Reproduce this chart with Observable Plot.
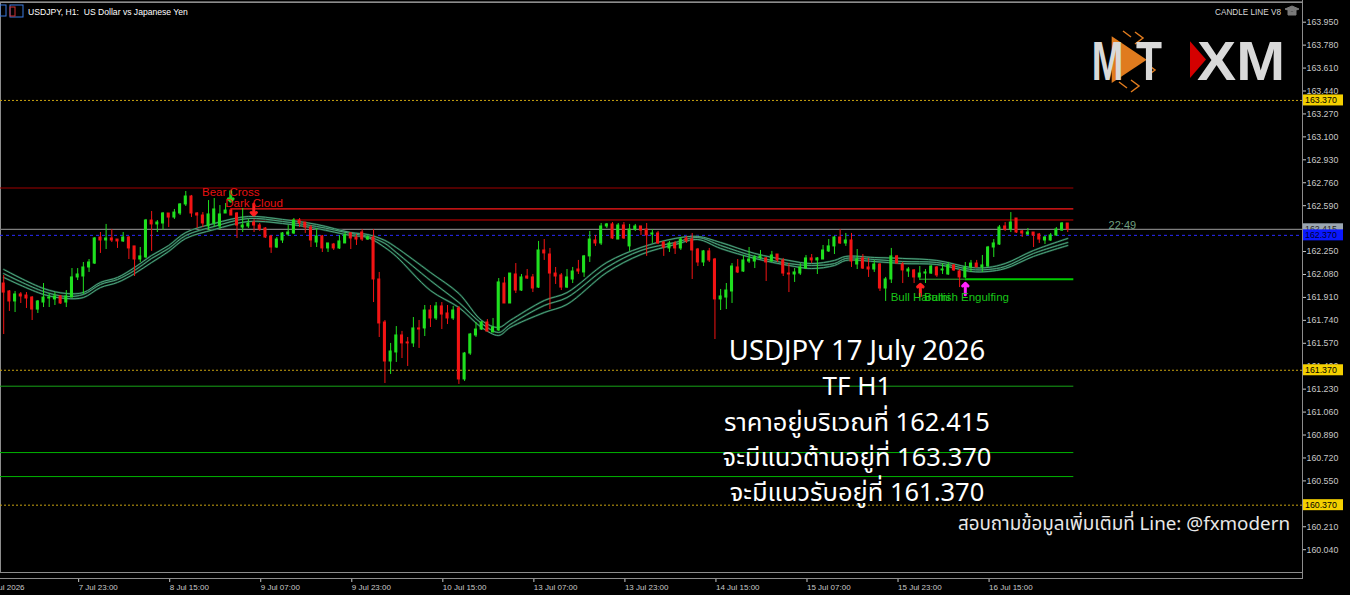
<!DOCTYPE html>
<html><head><meta charset="utf-8">
<script src="https://cdn.jsdelivr.net/npm/d3@7"></script>
<script src="https://cdn.jsdelivr.net/npm/@observablehq/plot@0.6"></script>
<style>
html,body{margin:0;padding:0;background:#000;overflow:hidden}
#chart{width:1350px;height:595px;background:#000;position:relative}
</style></head><body><div id="chart"></div>
<script>
// ---- Candles (USDJPY H1), bar index 0 = 7 Jul 10:00 ----
const opens = [162.013,161.954,161.880,161.932,161.924,161.909,161.820,161.872,161.902,161.895,
161.917,161.872,161.909,162.058,162.065,162.132,162.161,162.354,162.332,162.347,
162.339,162.325,162.354,162.288,162.191,162.206,162.480,162.451,162.458,162.532,
162.502,162.532,162.599,162.658,162.532,162.517,162.436,162.458,162.436,162.532,
162.554,162.532,162.428,162.436,162.465,162.443,162.421,162.362,162.280,162.332,
162.376,162.384,162.480,162.465,162.428,162.317,162.362,162.273,162.302,162.273,
162.310,162.384,162.354,162.391,162.339,162.354,162.043,161.724,161.435,161.502,
161.628,161.576,161.569,161.680,161.680,161.813,161.754,161.843,161.791,161.754,
161.828,161.302,161.494,161.628,161.672,161.724,161.650,161.665,162.013,161.865,
162.080,161.961,162.065,162.058,161.983,162.258,162.228,162.087,162.073,161.983,
162.043,162.117,162.095,162.214,162.332,162.310,162.436,162.451,162.339,162.443,
162.288,162.413,162.436,162.413,162.376,162.384,162.317,162.273,162.310,162.273,
162.347,162.339,162.265,162.169,162.251,162.191,161.895,161.909,161.954,162.132,
162.102,162.176,162.176,162.199,162.199,162.176,162.228,162.184,162.087,162.080,
162.087,162.124,162.199,162.184,162.191,162.251,162.288,162.354,162.310,162.332,
162.154,162.199,162.132,162.117,162.154,161.976,162.043,162.214,162.154,162.102,
162.110,162.058,162.087,162.087,162.132,162.110,162.080,162.147,162.102,162.058,
162.132,162.161,162.132,162.139,162.280,162.302,162.436,162.413,162.495,162.399,
162.376,162.391,162.376,162.332,162.332,162.369,162.406,162.458];
const highs = [162.073,161.961,161.954,161.946,161.946,161.917,161.887,162.013,161.939,161.946,
161.924,161.961,162.124,162.124,162.169,162.191,162.354,162.391,162.451,162.413,
162.339,162.391,162.362,162.288,162.280,162.488,162.547,162.480,162.539,162.532,
162.562,162.606,162.695,162.666,162.539,162.539,162.628,162.643,162.591,162.606,
162.562,162.539,162.569,162.488,162.488,162.458,162.428,162.369,162.354,162.391,
162.443,162.495,162.495,162.465,162.443,162.421,162.369,162.310,162.310,162.369,
162.391,162.391,162.376,162.413,162.369,162.413,162.095,161.739,161.569,161.694,
161.658,161.613,161.761,161.739,161.850,161.850,161.872,161.872,161.850,161.843,
161.843,161.502,161.643,161.724,161.731,161.746,161.754,162.050,162.058,162.087,
162.161,162.080,162.117,162.080,162.325,162.339,162.273,162.132,162.087,162.117,
162.132,162.184,162.221,162.399,162.369,162.458,162.458,162.465,162.458,162.465,
162.451,162.451,162.436,162.458,162.413,162.399,162.325,162.325,162.325,162.354,
162.362,162.384,162.273,162.258,162.273,162.199,161.969,162.013,162.161,162.191,
162.221,162.280,162.221,162.258,162.206,162.251,162.228,162.199,162.161,162.124,
162.161,162.221,162.228,162.206,162.295,162.339,162.362,162.413,162.384,162.384,
162.265,162.228,162.199,162.184,162.161,162.058,162.273,162.221,162.169,162.132,
162.117,162.139,162.117,162.147,162.139,162.161,162.169,162.154,162.117,162.169,
162.184,162.184,162.221,162.288,162.339,162.443,162.465,162.539,162.495,162.406,
162.421,162.391,162.384,162.362,162.384,162.428,162.465,162.458];
const lows = [161.635,161.806,161.798,161.865,161.828,161.739,161.791,161.835,161.835,161.850,
161.858,161.835,161.909,162.035,161.932,162.095,162.154,162.236,162.265,162.317,
162.273,162.317,162.191,162.065,162.169,162.199,162.251,162.391,162.406,162.428,
162.488,162.517,162.584,162.502,162.421,162.428,162.406,162.428,162.413,162.532,
162.517,162.347,162.391,162.421,162.391,162.399,162.347,162.236,162.273,162.310,
162.362,162.376,162.428,162.384,162.280,162.280,162.243,162.243,162.258,162.265,
162.310,162.265,162.295,162.325,162.332,161.872,161.613,161.272,161.339,161.428,
161.457,161.398,161.539,161.532,161.620,161.687,161.739,161.672,161.709,161.739,
161.265,161.287,161.480,161.613,161.665,161.657,161.650,161.657,161.865,161.865,
161.939,161.954,162.043,161.946,161.976,162.184,161.820,162.006,161.961,161.976,
162.013,162.080,162.058,162.169,162.288,162.295,162.421,162.339,162.339,162.339,
162.251,162.399,162.369,162.214,162.310,162.302,162.214,162.243,162.228,162.258,
162.310,162.043,162.139,162.139,162.169,161.598,161.813,161.820,161.865,162.087,
162.095,162.161,162.124,162.191,162.028,162.169,162.169,162.065,161.946,162.021,
162.073,162.117,162.161,162.080,162.191,162.243,162.228,162.302,162.288,162.132,
162.117,162.117,162.058,162.095,161.954,161.880,162.013,162.161,162.013,162.058,
162.013,162.035,162.013,162.080,162.058,162.080,162.073,162.102,161.983,162.050,
162.095,162.132,162.095,162.132,162.206,162.295,162.399,162.391,162.384,162.354,
162.369,162.280,162.310,162.302,162.325,162.362,162.399,162.391];
const closes = [161.946,161.880,161.932,161.917,161.902,161.820,161.880,161.909,161.909,161.917,
161.865,161.917,162.058,162.080,162.132,162.169,162.347,162.332,162.347,162.332,
162.325,162.354,162.273,162.191,162.214,162.480,162.451,162.465,162.532,162.502,
162.539,162.599,162.658,162.532,162.517,162.458,162.525,162.562,162.525,162.554,
162.517,162.443,162.443,162.458,162.443,162.413,162.354,162.280,162.339,162.384,
162.391,162.480,162.458,162.428,162.332,162.362,162.273,162.310,162.273,162.325,
162.369,162.347,162.339,162.339,162.354,162.043,161.717,161.435,161.509,161.628,
161.569,161.569,161.680,161.672,161.813,161.754,161.843,161.783,161.754,161.813,
161.302,161.494,161.635,161.672,161.724,161.657,161.687,162.021,161.865,162.087,
161.961,162.058,162.050,161.976,162.258,162.236,162.087,162.065,161.983,162.058,
162.102,162.102,162.214,162.339,162.310,162.436,162.451,162.347,162.443,162.347,
162.413,162.436,162.406,162.369,162.384,162.310,162.280,162.310,162.273,162.339,
162.325,162.258,162.169,162.251,162.184,161.895,161.917,161.961,162.139,162.095,
162.184,162.191,162.206,162.214,162.169,162.221,162.184,162.087,162.080,162.095,
162.132,162.199,162.184,162.199,162.258,162.288,162.354,162.310,162.332,162.176,
162.191,162.124,162.117,162.154,161.976,162.043,162.214,162.161,162.110,162.117,
162.058,162.087,162.095,162.139,162.073,162.117,162.147,162.110,162.058,162.132,
162.161,162.132,162.147,162.280,162.310,162.428,162.413,162.465,162.391,162.384,
162.391,162.369,162.339,162.354,162.369,162.413,162.458,162.415];

// ---- Moving-average band (three lines) ----
const maIdx = [0,7,11,14,17,20,23,26,29,32,37,43,49,55,61,64,67,69,75,80,84,87,89,95,99,106,112,118,122,126,132,138,142,146,148,153,158,164,170,173,176,181,187];
const maUpper = [162.117,161.976,161.939,161.946,162.021,162.058,162.132,162.221,162.295,162.391,162.458,162.510,162.488,162.451,162.391,162.376,162.332,162.280,162.095,161.939,161.739,161.687,161.739,161.887,161.946,162.169,162.280,162.347,162.362,162.317,162.236,162.184,162.161,162.184,162.214,162.206,162.199,162.184,162.132,162.132,162.161,162.258,162.347];
const maMid = [162.087,161.954,161.917,161.932,162.006,162.043,162.110,162.199,162.273,162.369,162.436,162.495,162.473,162.436,162.384,162.362,162.310,162.243,162.035,161.872,161.717,161.650,161.709,161.850,161.909,162.132,162.258,162.317,162.354,162.295,162.214,162.161,162.147,162.161,162.199,162.191,162.176,162.169,162.117,162.117,162.139,162.236,162.317];
const maLower = [162.058,161.932,161.902,161.909,161.983,162.021,162.087,162.169,162.251,162.347,162.413,162.473,162.458,162.421,162.369,162.354,162.280,162.214,161.961,161.835,161.687,161.628,161.687,161.798,161.858,162.095,162.228,162.302,162.339,162.273,162.199,162.147,162.124,162.147,162.184,162.176,162.161,162.154,162.102,162.102,162.124,162.214,162.295];

// ---- Levels ----
const goldLevels = [163.370, 161.370, 160.370];
const lastPrice = 162.415;
const askPrice = 162.370;
const zonePrices = [162.721, 162.567, 162.484, 162.045, 162.045, 161.252, 160.760, 160.582];
const zoneStart  = [-1, 39.9, 44.5, 161.1, 169.0, -1, -1, -1];
const zoneEnd    = [188.07, 188.07, 188.07, 169.0, 188.07, 188.07, 188.07, 188.07];
const zoneColors = ["#a00000", "#ff1a1a", "#d40000", "#3aa83a", "#00cc00", "#17a317", "#00b400", "#00b400"];
const zoneWidths = [1, 1.3, 1, 1, 2, 1, 1, 1];

// ---- Signals ----
const signalText  = ["Bear Cross", "Dark Cloud", "Bull Harami", "Bullish Engulfing"];
const signalK     = [39.9, 44.0, 161.1, 169.2];
const signalPrice = [162.690, 162.608, 161.912, 161.912];
const signalColor = ["#e81010", "#e81010", "#18c418", "#18c418"];
const arrowK      = [39.9, 43.95, 161.1, 169.0];
const arrowFrom   = [162.697, 162.602, 161.922, 161.930];
const arrowTo     = [162.623, 162.520, 162.008, 162.015];
const arrowColor  = ["#22d022", "#ff2020", "#ff2020", "#ff22ff"];
const infoText = ["22:49"], infoK = [196.6], infoPrice = [162.443];

// ---- Axes ----
const yTicks = [160.04,160.21,160.38,160.55,160.72,160.89,161.06,161.23,161.40,161.57,161.74,161.91,162.08,162.25,162.42,162.59,162.76,162.93,163.10,163.27,163.44,163.61,163.78,163.95];
const xTickIdx = [-3, 13, 29, 45, 61, 77, 93, 109, 125, 141, 157, 173];
const xTickLabels = ["7 Jul 2026","7 Jul 23:00","8 Jul 15:00","9 Jul 07:00","9 Jul 23:00","10 Jul 15:00","13 Jul 07:00","13 Jul 23:00","14 Jul 15:00","15 Jul 07:00","15 Jul 23:00","16 Jul 15:00"];

const priceTags = [163.370, 161.370, 160.370, 162.415, 162.370];
const priceTagBg = ["#f4d000", "#f4d000", "#f4d000", "#9ba6b1", "#0a18ff"];
const priceTagFg = ["#000", "#000", "#000", "#2a2a2a", "#000030"];

// ---- build ----
const bars = opens.map((o, i) => ({i, o, h: highs[i], l: lows[i], c: closes[i], up: closes[i] > o}));
const GREEN = "#1fe01f", RED = "#f21414";
const col = d => d.up ? GREEN : RED;
const ma = maIdx.map((k, j) => ({k, u: maUpper[j], m: maMid[j], d: maLower[j]}));
const zones = zonePrices.map((p, j) => ({p, a: zoneStart[j], b: zoneEnd[j], c: zoneColors[j], w: zoneWidths[j]}));
const signals = signalText.map((t, j) => ({t, k: signalK[j], p: signalPrice[j], c: signalColor[j]}));
const arrows = arrowK.map((k, j) => ({k, p1: arrowFrom[j], p2: arrowTo[j], c: arrowColor[j]}));
const infos = infoText.map((t, j) => ({t, k: infoK[j], p: infoPrice[j]}));

const maLines = [];
for (const key of ["u", "m", "d"]) {
  maLines.push(Plot.line(ma, {x: "k", y: key, stroke: "#16402e", strokeWidth: 2, curve: "catmull-rom"}));
}
for (const key of ["u", "m", "d"]) {
  maLines.push(Plot.line(ma, {x: "k", y: key, stroke: "#4ea27c", strokeWidth: 1, curve: "catmull-rom"}));
}

const chart = Plot.plot({
  width: 1350, height: 595,
  marginLeft: 0, marginRight: 48, marginTop: 2, marginBottom: 23,
  style: {background: "#000", color: "#c8c8c8", fontFamily: "Liberation Sans, Arial, sans-serif", overflow: "visible"},
  x: {domain: [-0.562, 228.26]},
  y: {domain: [159.871, 164.096]},
  color: {type: "identity"},
  marks: [
    Plot.frame({stroke: "#8c8c8c"}),
    Plot.ruleY(goldLevels, {stroke: "#c9a310", strokeDasharray: "2,2"}),
    Plot.ruleY([lastPrice], {stroke: "#7e7e7e", strokeWidth: 1.3}),
    Plot.ruleY([askPrice], {stroke: "#2a2aff", strokeDasharray: "3,3"}),
    Plot.ruleY(zones.filter(z => z.w === 1), {y: "p", x1: "a", x2: "b", stroke: "c", strokeWidth: 1}),
    Plot.ruleY(zones.filter(z => z.w > 1 && z.w < 2), {y: "p", x1: "a", x2: "b", stroke: "c", strokeWidth: 1.3}),
    Plot.ruleY(zones.filter(z => z.w >= 2), {y: "p", x1: "a", x2: "b", stroke: "c", strokeWidth: 2}),
    ...maLines,
    Plot.ruleX(bars, {x: "i", y1: "l", y2: "h", stroke: col, strokeWidth: 1}),
    Plot.rect(bars, {x1: d => d.i - 0.27, x2: d => d.i + 0.27, y1: "o", y2: "c", fill: col, insetTop: -0.5, insetBottom: -0.5}),
    Plot.arrow(arrows, {x1: "k", x2: "k", y1: "p1", y2: "p2", stroke: "c", strokeWidth: 3, headLength: 6, headAngle: 90}),
    Plot.text(signals, {x: "k", y: "p", text: "t", fill: "c", fontSize: 11.5, fontFamily: "Liberation Sans, Arial, sans-serif"}),
    Plot.text(infos, {x: "k", y: "p", text: "t", fill: "#6f9f7f", fontSize: 11, fontFamily: "Liberation Sans, Arial, sans-serif"}),
    Plot.axisY({anchor: "right", ticks: yTicks, tickFormat: d3.format(".3f"), tickSize: 3, tickPadding: 1, fontSize: 8.8, label: null, fill: "#c8c8c8"}),
    Plot.axisX({ticks: xTickIdx, tickFormat: d => xTickLabels[xTickIdx.indexOf(d)], tickSize: 4, tickPadding: 2, dy: 6, textAnchor: "start", dx: 1, fontSize: 8, label: null, fill: "#c8c8c8"})
  ]
});
document.getElementById("chart").append(chart);

// ---- decorations in the same svg ----
const svg = d3.select(chart);
const ys = chart.scale("y");
const g = svg.append("g").attr("text-anchor", "start");
g.append("line").attr("x1", 0).attr("x2", 1302).attr("y1", 578.5).attr("y2", 578.5).attr("stroke", "#8c8c8c");
g.append("line").attr("x1", 1302.5).attr("x2", 1302.5).attr("y1", 0).attr("y2", 579).attr("stroke", "#8c8c8c");
g.append("line").attr("x1", 0).attr("x2", 1302).attr("y1", 1.5).attr("y2", 1.5).attr("stroke", "#5a5a5a");

const lf = "Liberation Sans, Arial, sans-serif";
priceTags.forEach((p, j) => {
  const yy = ys.apply(p);
  g.append("rect").attr("x", 1303).attr("y", yy - 5.5).attr("width", 40).attr("height", 11).attr("fill", priceTagBg[j]);
  g.append("text").attr("x", 1305).attr("y", yy + 3.2).attr("fill", priceTagFg[j]).attr("text-anchor", "start")
    .attr("font-size", 8.8).attr("font-family", lf).text(d3.format(".3f")(p));
});

// title bar
g.append("rect").attr("x", 0).attr("y", 5).attr("width", 6).attr("height", 11).attr("fill", "none").attr("stroke", "#3a7adf");
g.append("rect").attr("x", 10).attr("y", 5).attr("width", 13).attr("height", 12).attr("fill", "none").attr("stroke", "#3a7adf");
g.append("rect").attr("x", 10).attr("y", 7).attr("width", 5).attr("height", 9).attr("fill", "none").attr("stroke", "#d03030");
g.append("text").attr("x", 28).attr("y", 14.5).attr("fill", "#ffffff").attr("font-size", 8.6).attr("text-anchor", "start")
  .attr("font-family", lf).text("USDJPY, H1:  US Dollar vs Japanese Yen");
g.append("text").attr("x", 1281).attr("y", 15).attr("text-anchor", "end").attr("fill", "#d8d8d8").attr("font-size", 8.2)
  .attr("font-family", lf).text("CANDLE LINE V8");
g.append("path").attr("d", "M1285,9 L1292,6 L1299,9 L1292,12 Z M1288,11 L1288,15 L1296,15 L1296,11").attr("fill", "#7a7a7a").attr("stroke", "#7a7a7a");

// logo
const logo = g.append("g").attr("transform", "translate(1085,28)");
logo.append("path").attr("d", "M26.7,8.3 L61.7,31.7 L26.7,55 Z").attr("fill", "#e07b1e");
logo.append("path").attr("d", "M50,4 L58,10 L50,16 M38,3 L46,9 M62,36 L70,42 L62,48 M46,52 L54,58 L46,64 M34,54 L42,60").attr("stroke", "#e07b1e").attr("fill", "none").attr("stroke-width", 1.5);
logo.append("text").attr("x", 6.7).attr("y", 51.7).attr("font-size", 55).attr("font-weight", "bold").attr("font-family", lf).attr("text-anchor", "start")
  .attr("fill", "#d9d9d9").attr("textLength", 31.6).attr("lengthAdjust", "spacingAndGlyphs").text("M");
logo.append("text").attr("x", 51).attr("y", 51.7).attr("font-size", 55).attr("font-weight", "bold").attr("font-family", lf).attr("text-anchor", "start")
  .attr("fill", "#d9d9d9").attr("textLength", 26).attr("lengthAdjust", "spacingAndGlyphs").text("T");
logo.append("path").attr("d", "M105,13.3 L121,31.5 L105,50 Z").attr("fill", "#d40000");
logo.append("text").attr("x", 112).attr("y", 51.7).attr("font-size", 55).attr("font-weight", "bold").attr("font-family", lf).attr("text-anchor", "start")
  .attr("fill", "#d9d9d9").attr("textLength", 88).attr("lengthAdjust", "spacingAndGlyphs").text("XM");

// caption texts
const thai = "'Noto Sans Thai','Noto Sans','Noto Sans CJK SC','DejaVu Sans',sans-serif";
const capLines = ["USDJPY 17 July 2026", "TF H1", "ราคาอยู่บริเวณที่ 162.415", "จะมีแนวต้านอยู่ที่ 163.370", "จะมีแนวรับอยู่ที่ 161.370"];
const capSizes = [27.5, 26, 25.5, 25.5, 25.5];
capLines.forEach((t, j) => {
  g.append("text").attr("x", 857).attr("y", 360 + j * 35.3).attr("text-anchor", "middle").attr("fill", "#ffffff")
    .attr("font-size", capSizes[j]).attr("font-family", thai).text(t);
});
g.append("text").attr("x", 1290).attr("y", 530).attr("text-anchor", "end").attr("fill", "#e8e8e8")
  .attr("font-size", 18.8).attr("font-family", thai).text("สอบถามข้อมูลเพิ่มเติมที่ Line: @fxmodern");
</script></body></html>
